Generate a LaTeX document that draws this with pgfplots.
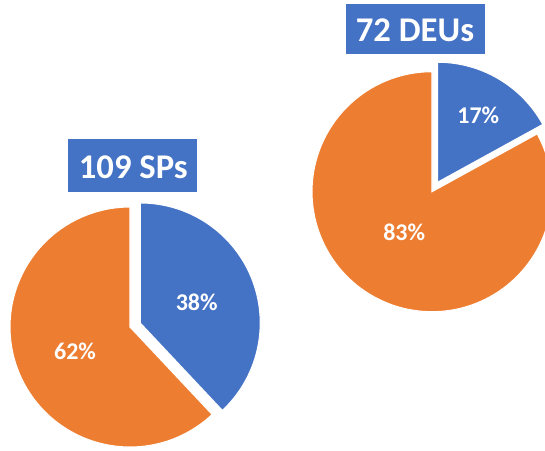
\documentclass[border=0pt]{standalone}
\usepackage{pgfplots}
\pgfplotsset{compat=1.18}
\usepackage{fontspec}
\setmainfont{Carlito}
\definecolor{xblue}{HTML}{4472C4}
\definecolor{xorange}{HTML}{ED7D31}
% data (percent)
\def\SPblue{38}\def\SPorange{62}
\def\DEUblue{17}\def\DEUorange{83}
\begin{document}
\begin{tikzpicture}
\pgfmathsetmacro\aL{90-3.6*\SPblue}
\pgfmathsetmacro\eL{\aL-3.6*\SPorange}
\pgfmathsetmacro\bL{90-1.8*\SPblue}
\pgfmathsetmacro\cxL{130+11*cos(\bL)}
\pgfmathsetmacro\cyL{327-11*sin(\bL)}
\pgfmathsetmacro\aR{90-3.6*\DEUblue}
\pgfmathsetmacro\eR{\aR-3.6*\DEUorange}
\pgfmathsetmacro\bR{90-1.8*\DEUblue}
\pgfmathsetmacro\cxR{432+11*cos(\bR)}
\pgfmathsetmacro\cyR{191.7-11*sin(\bR)}
\begin{axis}[
  scale only axis, width=408.75pt, height=337.5pt,
  xmin=0, xmax=545, ymin=0, ymax=450, y dir=reverse,
  hide axis, clip=true,
]
% left pie
\addplot[fill=xorange, draw=white, line width=0.8pt, domain=\aL:\eL, samples=150, variable=\t]
  ({130+120*cos(t)},{327-120*sin(t)}) -- (axis cs:130,327) -- cycle;
\addplot[fill=xblue, draw=white, line width=0.8pt, domain=90:\aL, samples=100, variable=\t]
  ({\cxL+120*cos(t)},{\cyL-120*sin(t)}) -- (axis cs:\cxL,\cyL) -- cycle;
% right pie
\addplot[fill=xorange, draw=white, line width=0.8pt, domain=\aR:\eR, samples=150, variable=\t]
  ({432+120*cos(t)},{191.7-120*sin(t)}) -- (axis cs:432,191.7) -- cycle;
\addplot[fill=xblue, draw=white, line width=0.8pt, domain=90:\aR, samples=80, variable=\t]
  ({\cxR+120*cos(t)},{\cyR-120*sin(t)}) -- (axis cs:\cxR,\cyR) -- cycle;
% titles
\fill[xblue] (axis cs:68.3,139.3) rectangle (axis cs:197.3,191.7);
\fill[xblue] (axis cs:346,4) rectangle (axis cs:485,54.3);
\node[anchor=base, text=white, inner sep=0pt, font=\bfseries\fontsize{26}{30}\selectfont] at (axis cs:133.3,178.3) {109 SPs};
\node[anchor=base, text=white, inner sep=0pt, font=\bfseries\fontsize{26}{30}\selectfont] at (axis cs:415,41.7) {72 DEUs};
% labels
\node[anchor=base, text=white, inner sep=0pt, font=\bfseries\fontsize{18}{21}\selectfont] at (axis cs:196.7,310) {\SPblue\%};
\node[anchor=base, text=white, inner sep=0pt, font=\bfseries\fontsize{18}{21}\selectfont] at (axis cs:75,359.3) {\SPorange\%};
\node[anchor=base, text=white, inner sep=0pt, font=\bfseries\fontsize{18}{21}\selectfont] at (axis cs:478.3,123.3) {\DEUblue\%};
\node[anchor=base, text=white, inner sep=0pt, font=\bfseries\fontsize{18}{21}\selectfont] at (axis cs:404.2,240.7) {\DEUorange\%};
\end{axis}
\pgfresetboundingbox
\useasboundingbox (0,0) rectangle (408.75pt,337.5pt);
\end{tikzpicture}
\end{document}
